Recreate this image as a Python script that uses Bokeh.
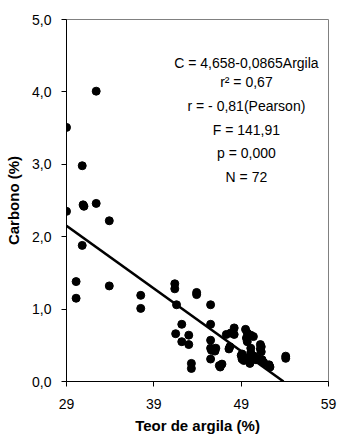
from bokeh.plotting import figure
from bokeh.models import Range1d, FixedTicker, Label
from bokeh.embed import file_html
from bokeh.resources import INLINE

# Data
argila = [29.0, 29.0, 32.4, 30.8, 31.0, 30.9, 32.4, 33.9, 30.8, 30.1, 30.1, 33.9,
          37.5, 37.5, 41.4, 41.4, 41.6, 43.9, 43.9, 45.5, 41.5, 42.2, 43.0, 42.2,
          43.0, 45.5, 45.5, 45.5, 45.9, 46.1, 45.5, 43.3, 43.3, 46.5, 46.8, 46.6,
          47.3, 47.7, 47.6, 47.8, 48.2, 48.2, 49.1, 49.1, 49.3, 49.5, 49.6, 49.7,
          50.1, 49.7, 50.1, 50.1, 49.9, 50.0, 50.3, 50.7, 51.0, 51.2, 51.2, 51.3,
          51.4, 51.6, 52.2, 52.3, 54.1, 54.1, 49.0, 50.4, 51.3, 45.6, 46.0, 50.5]
carbono = [3.51, 2.35, 4.01, 2.98, 2.42, 2.44, 2.46, 2.22, 1.88, 1.38, 1.15, 1.32,
           1.19, 1.01, 1.35, 1.28, 1.06, 1.23, 1.20, 1.06, 0.66, 0.79, 0.64, 0.55,
           0.51, 0.79, 0.57, 0.46, 0.45, 0.46, 0.31, 0.25, 0.18, 0.22, 0.24, 0.20,
           0.65, 0.48, 0.45, 0.67, 0.74, 0.65, 0.38, 0.31, 0.29, 0.72, 0.60, 0.67,
           0.64, 0.55, 0.46, 0.40, 0.33, 0.25, 0.31, 0.30, 0.31, 0.51, 0.45, 0.41,
           0.30, 0.26, 0.23, 0.20, 0.32, 0.35, 0.36, 0.62, 0.48, 0.43, 0.42, 0.35]

intercept = 4.658
slope = -0.0865
line_x = [29.0, intercept / -slope]

x_ticks = [29, 39, 49, 59]
x_tick_labels = ["29", "39", "49", "59"]
y_ticks = [0, 1, 2, 3, 4, 5]
y_tick_labels = ["0,0", "1,0", "2,0", "3,0", "4,0", "5,0"]

stats_lines = ["C = 4,658-0,0865Argila", "r\u00b2 = 0,67", "r = - 0,81(Pearson)",
               "F = 141,91", "p = 0,000", "N = 72"]
stats_y = [4.40, 4.13, 3.80, 3.48, 3.16, 2.83]
stats_x = 49.6

FONT = "Liberation Sans"

p = figure(width=337, height=436, output_backend="svg", toolbar_location=None,
           x_range=Range1d(29, 59), y_range=Range1d(0, 5),
           min_border_left=66, min_border_right=9, min_border_top=19,
           min_border_bottom=55)
p.background_fill_color = "white"
p.border_fill_color = "white"
p.outline_line_color = "#808080"
p.outline_line_width = 1
p.grid.visible = False

for ax in (p.xaxis[0], p.yaxis[0]):
    ax.axis_line_color = "black"
    ax.axis_line_width = 1
    ax.major_tick_line_color = "black"
    ax.major_tick_out = 5
    ax.major_tick_in = 0
    ax.minor_tick_line_color = None
    ax.major_label_text_font = FONT
    ax.major_label_text_font_size = "14px"
    ax.major_label_text_color = "black"
    ax.axis_label_text_font = FONT
    ax.axis_label_text_font_size = "15px"
    ax.axis_label_text_font_style = "bold"
    ax.axis_label_text_color = "black"

p.xaxis.ticker = FixedTicker(ticks=x_ticks)
p.xaxis.major_label_overrides = dict(zip(x_ticks, x_tick_labels))
p.yaxis.ticker = FixedTicker(ticks=y_ticks)
p.yaxis.major_label_overrides = dict(zip(y_ticks, y_tick_labels))
p.xaxis.axis_label = "Teor de argila (%)"
p.yaxis.axis_label = "Carbono (%)"
p.xaxis.major_label_standoff = 12
p.yaxis.major_label_standoff = 10
p.xaxis.axis_label_standoff = 5
p.yaxis.axis_label_standoff = 7

p.line(line_x, [intercept + slope * v for v in line_x], line_color="black", line_width=2.5)
p.scatter(argila, carbono, size=8, fill_color="black", line_color="black")

for txt, yy in zip(stats_lines, stats_y):
    p.add_layout(Label(x=stats_x, y=yy, text=txt, text_align="center",
                       text_baseline="middle", text_font=FONT,
                       text_font_size="14px", text_color="black"))

open("out.html", "w").write(file_html(p, INLINE))
